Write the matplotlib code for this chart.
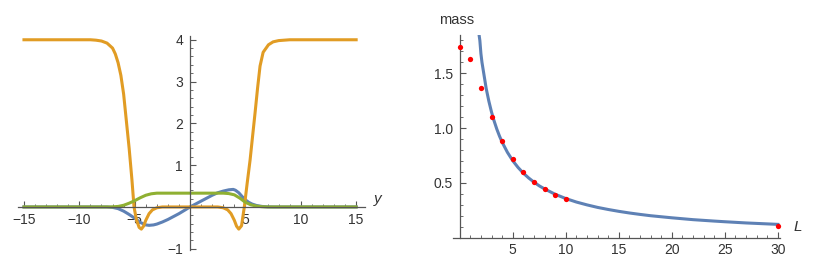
from matplotlib import pyplot as plt
from matplotlib.ticker import MultipleLocator, FixedLocator

plt.rcParams['font.family'] = ['Liberation Sans', 'DejaVu Sans']

BLUE = '#5E81B5'
ORANGE = '#E19C24'
GREEN = '#8FB032'
AXC = '#555555'
TXC = '#333333'

# left panel, profiles vs y
orange_y = [-15, -9, -8.5, -8, -7.5, -7, -6.75, -6.5, -6.25, -6, -5.75, -5.5, -5.25, -5.06,
            -4.85, -4.6, -4.4, -4.2, -4.0, -3.7, -3.4, -3.0, -2.5, 0,
            2.5, 3.0, 3.4, 3.7, 4.0, 4.2, 4.4, 4.65, 4.9, 5.15, 5.42, 5.65, 5.87, 6.1, 6.32,
            6.6, 7.08, 7.5, 8.0, 8.5, 9, 15]
orange_v = [4, 4, 3.99, 3.97, 3.92, 3.8, 3.66, 3.45, 3.15, 2.7, 2.05, 1.4, 0.65, 0,
            -0.3, -0.49, -0.53, -0.46, -0.32, -0.16, -0.07, -0.02, 0, 0,
            0, -0.02, -0.07, -0.16, -0.32, -0.46, -0.53, -0.45, 0, 0.55, 1.12, 1.7, 2.25, 2.85, 3.37,
            3.7, 3.88, 3.95, 3.98, 3.99, 4, 4]

blue_y = [-15, -7.5, -7, -6.5, -6, -5.5, -5, -4.5, -4, -3.7, -3.3, -3, -2.5, -2, -1.5, -1, -0.5, 0,
          0.5, 1, 1.5, 2, 2.5, 3, 3.5, 3.9, 4.1, 4.4, 4.7, 5.0, 5.3, 5.6, 6.0, 6.5, 7, 7.5, 15]
blue_v = [0, 0, -0.01, -0.04, -0.1, -0.18, -0.27, -0.37, -0.43, -0.44, -0.43, -0.41, -0.36, -0.3, -0.23, -0.16, -0.08, 0,
          0.07, 0.14, 0.21, 0.28, 0.34, 0.38, 0.41, 0.42, 0.4, 0.34, 0.25, 0.17, 0.11, 0.07, 0.035, 0.012, 0.003, 0, 0]

green_y = [-15, -7.2, -7, -6.5, -6, -5.5, -5, -4.5, -4, -3.5, -3, 3, 3.5, 4, 4.5, 5, 5.5, 6, 6.5, 7, 15]
green_v = [0, 0, 0.003, 0.012, 0.04, 0.09, 0.15, 0.22, 0.28, 0.315, 0.33, 0.33, 0.32, 0.29, 0.21, 0.11, 0.05, 0.02, 0.005, 0, 0]

# right panel, mass vs L
L_points = [0, 1, 2, 3, 4, 5, 6, 7, 8, 9, 10, 30]
mass_points = [1.74, 1.63, 1.37, 1.10, 0.878, 0.719, 0.600, 0.509, 0.443, 0.388, 0.348, 0.105]

L_fit = [1.7, 1.8, 1.9, 2, 2.1, 2.25, 2.4, 2.5, 2.75, 3, 3.25, 3.5, 3.75, 4, 4.5, 5, 5.5, 6, 6.5, 7, 7.5,
         8, 9, 10, 11, 12, 13, 14, 15, 16, 17, 18, 20, 22, 24, 25, 27, 30]
mass_fit = [1.95, 1.87, 1.80, 1.68, 1.60, 1.51, 1.42, 1.36, 1.245, 1.146, 1.063, 0.99, 0.927, 0.871, 0.778,
            0.702, 0.640, 0.588, 0.544, 0.506, 0.472, 0.444, 0.395, 0.356, 0.324, 0.298, 0.275, 0.256,
            0.239, 0.224, 0.211, 0.199, 0.180, 0.163, 0.150, 0.144, 0.133, 0.120]

fig = plt.figure(figsize=(8.19, 2.69), dpi=100)


def style_axes(ax):
    for s in ['top', 'right']:
        ax.spines[s].set_visible(False)
    for s in ['left', 'bottom']:
        ax.spines[s].set_position(('data', 0))
        ax.spines[s].set_color(AXC)
        ax.spines[s].set_linewidth(0.9)
    ax.tick_params(which='both', direction='in', colors=AXC, labelcolor=TXC, labelsize=10)
    ax.tick_params(which='major', length=4, width=0.8)
    ax.tick_params(which='minor', length=2.3, width=0.6)
    ax.patch.set_visible(False)


# LEFT
ax1 = fig.add_axes([18 / 819, 19 / 269, (365 - 18) / 819, (250 - 36) / 269])
ax1.plot(blue_y, blue_v, color=BLUE, lw=2.2)
ax1.plot(orange_y, orange_v, color=ORANGE, lw=2.2)
ax1.plot(green_y, green_v, color=GREEN, lw=2.2)
ax1.set_xlim(-15.54, 15.8)
ax1.set_ylim(-1.03, 4.09)
style_axes(ax1)
ax1.xaxis.set_major_locator(FixedLocator([-15, -10, -5, 5, 10, 15]))
ax1.xaxis.set_minor_locator(MultipleLocator(1))
ax1.yaxis.set_major_locator(FixedLocator([-1, 1, 2, 3, 4]))
ax1.yaxis.set_minor_locator(MultipleLocator(0.2))
ax1.tick_params(axis='x', pad=4)
ax1.tick_params(axis='y', pad=5)
ax1.text(16.9, 0.02, 'y', style='italic', fontsize=11, color=TXC, ha='center', va='bottom')

# RIGHT
ax2 = fig.add_axes([452.7 / 819, (269 - 237.5) / 269, (780 - 452.7) / 819, (237.5 - 35) / 269])
ax2.plot(L_fit, mass_fit, color=BLUE, lw=2.2)
ax2.plot(L_points, mass_points, 'o', color='#FF0000', markersize=3.8, markeredgewidth=0, clip_on=False, zorder=5)
ax2.set_xlim(-0.66, 30.2)
ax2.set_ylim(0, 1.85)
style_axes(ax2)
ax2.xaxis.set_major_locator(FixedLocator([5, 10, 15, 20, 25, 30]))
ax2.xaxis.set_minor_locator(MultipleLocator(1))
ax2.yaxis.set_major_locator(FixedLocator([0.5, 1.0, 1.5]))
ax2.yaxis.set_minor_locator(MultipleLocator(0.1))
ax2.yaxis.set_major_formatter(plt.FuncFormatter(lambda v, p: '{:.1f}'.format(v)))
ax2.tick_params(axis='x', pad=4)
ax2.tick_params(axis='y', pad=5)
ax2.text(31.9, 0.03, 'L', style='italic', fontsize=11, color=TXC, ha='center', va='bottom')
ax2.text(-0.25, 1.99, 'mass', fontsize=10.5, color=TXC, ha='center', va='center')

plt.savefig('out.png', dpi=100)
